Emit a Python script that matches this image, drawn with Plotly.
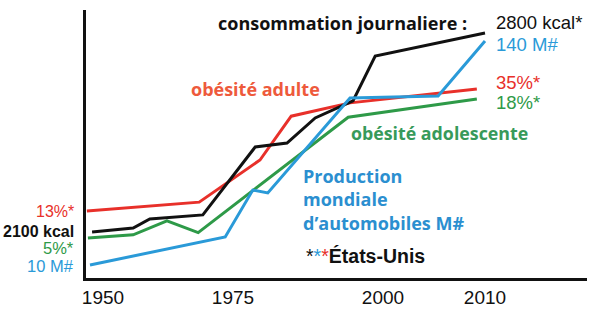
import numpy as np
import plotly.graph_objects as go

# ---- data ----
# the drawing's x-axis is hand-made (not linear): tick years and their positions
AXIS_YEARS = [1950, 1975, 2000, 2010]
AXIS_POS = [103, 233, 383, 485]
TICK_LABELS = ["1950", "1975", "2000", "2010"]

years_kcal = [1947.9, 1955.8, 1959.0, 1969.2, 1978.7, 1984.0, 1988.7, 1995.0, 1998.7, 2010.0]
kcal = [2100, 2114, 2146, 2160, 2399, 2413, 2501, 2561, 2719, 2800]

years_adult = [1946.9, 1968.5, 1979.5, 1984.7, 1994.5, 2009.2]
obesity_adult = [13, 14.6, 22.2, 30.1, 32.5, 35]

years_teen = [1947.1, 1955.8, 1962.3, 1968.3, 1994.2, 2009.2]
obesity_teen = [5, 5.3, 6.6, 5.5, 16.3, 18]

years_cars = [1947.5, 1973.5, 1978.3, 1980.8, 1994.5, 2005.4, 2010.0]
cars = [10, 26.3, 53.5, 51.8, 106.9, 108.1, 140]

# ---- styling ----
BLACK = "#111111"
RED = "#e8302a"
GREEN = "#2e9a48"
BLUE = "#2a9ad8"
RED_T = "#ee5a3c"
GREEN_T = "#379a5a"
BLUE_T = "#2b8fd0"

NUM_FONT = "Liberation Sans, Arial, sans-serif"
BOLD_FONT = "Open Sans, sans-serif"


def year_to_pos(years):
    yrs = np.asarray(years, dtype=float)
    xp = np.asarray(AXIS_YEARS, dtype=float)
    fp = np.asarray(AXIS_POS, dtype=float)
    out = np.interp(yrs, xp, fp)
    s0 = (fp[1] - fp[0]) / (xp[1] - xp[0])
    s1 = (fp[-1] - fp[-2]) / (xp[-1] - xp[-2])
    out = np.where(yrs < xp[0], fp[0] + (yrs - xp[0]) * s0, out)
    out = np.where(yrs > xp[-1], fp[-1] + (yrs - xp[-1]) * s1, out)
    return out


fig = go.Figure()
fig.add_trace(go.Scatter(x=year_to_pos(years_adult), y=obesity_adult, mode="lines",
                         line=dict(color=RED, width=3), yaxis="y"))
fig.add_trace(go.Scatter(x=year_to_pos(years_teen), y=obesity_teen, mode="lines",
                         line=dict(color=GREEN, width=3), yaxis="y2"))
fig.add_trace(go.Scatter(x=year_to_pos(years_kcal), y=kcal, mode="lines",
                         line=dict(color=BLACK, width=3), yaxis="y3"))
fig.add_trace(go.Scatter(x=year_to_pos(years_cars), y=cars, mode="lines",
                         line=dict(color=BLUE, width=3), yaxis="y4"))

L, R, T, B = 86, 587, 10, 278
W, H = 600, 321


def P(px, py):
    return (px - L) / (R - L), (B - py) / (B - T)


annots = []


def note(text, px, py, color, size, family, xanchor="left", align="left", bold=False):
    x, y = P(px, py)
    if bold:
        text = "<b>" + text + "</b>"
    annots.append(dict(text=text, x=x, y=y, xref="paper", yref="paper",
                       xanchor=xanchor, yanchor="middle", align=align, showarrow=False,
                       font=dict(color=color, size=size, family=family)))


note("consommation journaliere :", 216, 23, BLACK, 18, BOLD_FONT, bold=True)
note("2800 kcal*", 494, 22, BLACK, 18.5, NUM_FONT)
note("140 M#", 494, 44, BLUE, 18.5, NUM_FONT)
note("35%*", 494, 83, RED, 18.5, NUM_FONT)
note("18%*", 494, 103, GREEN, 18.5, NUM_FONT)
note("obésité adulte", 189, 89, RED_T, 18, BOLD_FONT, bold=True)
note("obésité adolescente", 349, 133, GREEN_T, 17.8, BOLD_FONT, bold=True)
note("Production<br>mondiale<br>d’automobiles M#", 301, 200, BLUE_T, 18, BOLD_FONT, bold=True)
note("*<span style='color:%s'>*</span><span style='color:%s'>*</span><b>États-Unis</b>" % (BLUE, RED),
     304, 256, BLACK, 19.5, NUM_FONT)

note("13%*", 76, 211, RED, 16, NUM_FONT, xanchor="right")
note("<b>2100 kcal</b>", 76, 231, BLACK, 16, NUM_FONT, xanchor="right")
note("5%*", 76, 248, GREEN, 16.5, NUM_FONT, xanchor="right")
note("10 M#", 76, 266, BLUE, 16.5, NUM_FONT, xanchor="right")

hidden = dict(showgrid=False, zeroline=False, showticklabels=False, ticks="", visible=False)

fig.update_layout(
    width=W, height=H,
    margin=dict(l=L, r=W - R, t=T, b=H - B),
    paper_bgcolor="white", plot_bgcolor="white",
    showlegend=False,
    xaxis=dict(range=[L, R], showgrid=False, zeroline=False,
               showline=True, linewidth=3, linecolor=BLACK,
               tickmode="array", tickvals=AXIS_POS, ticktext=TICK_LABELS,
               ticks="", ticklabelstandoff=0,
               tickfont=dict(family=NUM_FONT, size=19, color=BLACK)),
    yaxis=dict(range=[0.92, 49.25], showgrid=False, zeroline=False,
               showticklabels=False, ticks="",
               showline=True, linewidth=3, linecolor=BLACK),
    yaxis2=dict(range=[1.26, 26.33], overlaying="y", **hidden),
    yaxis3=dict(range=[1938, 2881], overlaying="y", **hidden),
    yaxis4=dict(range=[2.45, 158], overlaying="y", **hidden),
    annotations=annots,
)

fig.write_html("out.html")
